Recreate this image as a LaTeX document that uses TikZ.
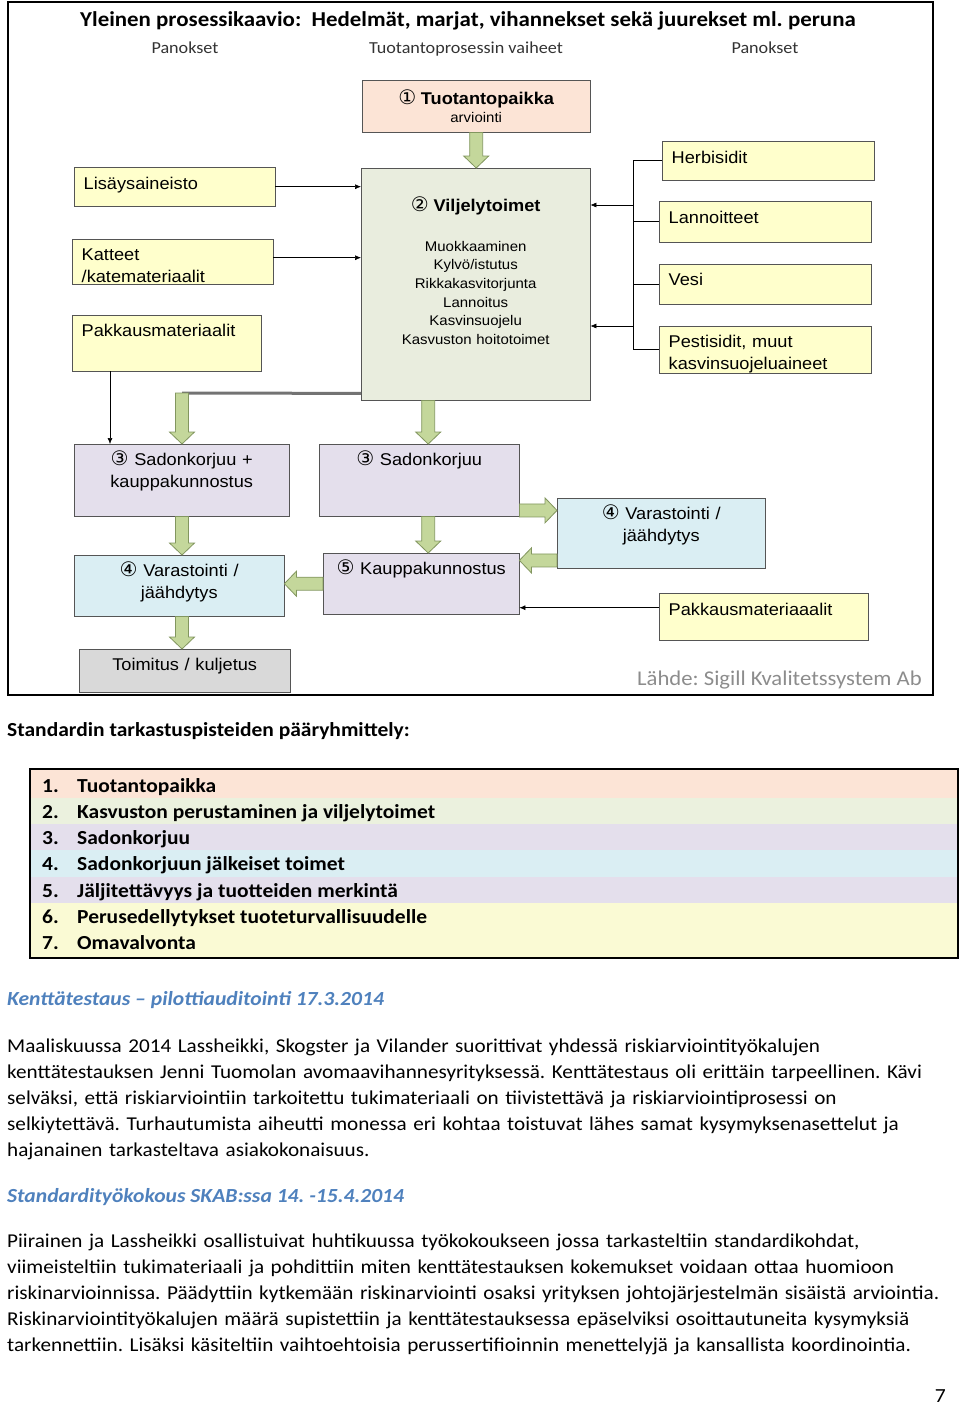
\documentclass[tikz,border=0pt]{standalone}
\usepackage{fontspec}
\setmainfont{Carlito}[FakeStretch=1.08]
\newfontfamily\arial{Liberation Sans}[FakeStretch=1.07]
\newfontfamily\dejavu{DejaVu Sans}
\usetikzlibrary{arrows.meta, calc, positioning}
\frenchspacing

\definecolor{panosfill}{RGB}{255,255,204}
\definecolor{paikkafill}{RGB}{252,228,214}
\definecolor{viljelyfill}{RGB}{233,237,222}
\definecolor{korjuufill}{RGB}{228,223,236}
\definecolor{varastofill}{RGB}{218,238,243}
\definecolor{toimitusfill}{RGB}{217,217,217}
\definecolor{reuna}{RGB}{85,85,85}
\definecolor{nuolifill}{RGB}{196,215,155}
\definecolor{nuolireuna}{RGB}{130,150,95}
\definecolor{otsikkosin}{RGB}{79,129,189}
\definecolor{rivivihr}{RGB}{235,241,222}
\definecolor{rivikelt}{RGB}{250,250,212}
\definecolor{lahdeharmaa}{RGB}{140,140,140}

% ympyröity numero
\newcommand{\ympyra}[1]{{\dejavu\fontsize{20}{20}\selectfont #1}}

\tikzstyle{panos} = [rectangle, draw=reuna, fill=panosfill,
anchor=north west,
align=left,
inner xsep=9.5pt, inner ysep=0pt,
text height=22pt,
font=\arial\fontsize{17}{22}\selectfont]
\tikzstyle{vaihe} = [rectangle, draw=reuna,
anchor=north west,
align=center,
inner sep=0pt,
text height=21.5pt,
font=\arial\fontsize{17}{22}\selectfont]
\tikzstyle{arrow} = [line width=0.6pt, -{Latex[length=6pt,width=5pt]}]
\tikzstyle{viiva} = [line width=0.6pt]
\tikzstyle{isonuoli} = [fill=nuolifill, draw=nuolireuna, line width=0.8pt,
to path={let \p1=($(\tikztotarget)!12pt!(\tikztostart)$) in
($(\tikztostart)!6.5pt!90:(\tikztotarget)$) -- ($(\p1)!6.5pt!90:(\tikztotarget)$)
-- ($(\p1)!12.5pt!90:(\tikztotarget)$) -- (\tikztotarget)
-- ($(\p1)!12.5pt!-90:(\tikztotarget)$) -- ($(\p1)!6.5pt!-90:(\tikztotarget)$)
-- ($(\tikztostart)!6.5pt!-90:(\tikztotarget)$) -- cycle}]
\tikzstyle{teksti} = [anchor=base west, align=left, inner sep=0pt, text width=960pt,
font=\fontsize{19.6}{26}\selectfont]
\tikzstyle{valiotsikko} = [anchor=base west, inner sep=0pt, text=otsikkosin,
font=\bfseries\itshape\fontsize{20}{24}\selectfont]

\begin{document}
\begin{tikzpicture}[x=1pt, y=-1pt]
        \useasboundingbox (0,0) rectangle (960,1405);

        % Kaavion kehys ja otsikot
        \draw [line width=2pt] (8,2) rectangle (933,695);
        \node (otsikko) [anchor=base, inner sep=0pt, font=\bfseries\fontsize{21.2}{26}\selectfont] at (468,27)
            {Yleinen prosessikaavio:~ Hedelmät, marjat, vihannekset sekä juurekset ml. peruna};
        \node (panokset1) [anchor=base, inner sep=0pt, text=black!80, font=\fontsize{16.8}{20}\selectfont] at (185,53) {Panokset};
        \node (vaiheet) [anchor=base, inner sep=0pt, text=black!80, font=\fontsize{16.8}{20}\selectfont] at (466,53) {Tuotantoprosessin vaiheet};
        \node (panokset2) [anchor=base, inner sep=0pt, text=black!80, font=\fontsize{16.8}{20}\selectfont] at (765,53) {Panokset};

        % Tuotantoprosessin vaiheet
        \node (tuot) [vaihe, fill=paikkafill, text width=228pt, text height=24pt, text depth=28pt,
            font=\arial\fontsize{14}{18}\selectfont] at (362,80)
            {{\fontsize{17}{18}\selectfont\ympyra{①} \textbf{Tuotantopaikka}}\\arviointi};
        \node (viljely) [vaihe, fill=viljelyfill, text width=229pt, text height=43pt, text depth=189pt,
            font=\arial\fontsize{14}{18.6}\selectfont] at (361,168)
            {{\fontsize{17}{18}\selectfont\ympyra{②} \textbf{Viljelytoimet}}\\[21.4pt]
             Muokkaaminen\\Kylvö/istutus\\Rikkakasvitorjunta\\Lannoitus\\Kasvinsuojelu\\Kasvuston hoitotoimet};
        \node (sadplus) [vaihe, fill=korjuufill, text width=215pt, text depth=50.5pt] at (74,444)
            {\ympyra{③} Sadonkorjuu +\\kauppakunnostus};
        \node (sad) [vaihe, fill=korjuufill, text width=200pt, text depth=50.5pt] at (319,444)
            {\ympyra{③} Sadonkorjuu};
        \node (varL) [vaihe, fill=varastofill, text width=210pt, text depth=39.5pt] at (74,555)
            {\ympyra{④} Varastointi /\\jäähdytys};
        \node (toim) [vaihe, fill=toimitusfill, text width=211pt, text depth=21.5pt] at (79,649)
            {Toimitus / kuljetus};
        \node (kauppa) [vaihe, fill=korjuufill, text width=196pt, text height=21pt, text depth=40pt] at (323,553)
            {\ympyra{⑤} Kauppakunnostus};
        \node (varR) [vaihe, fill=varastofill, text width=208pt, text height=21pt, text depth=49pt] at (557,498)
            {\ympyra{④} Varastointi /\\jäähdytys};

        % Panokset vasemmalla
        \node (lisays) [panos, text width=182pt, text depth=17pt] at (74,167) {Lisäysaineisto};
        \node (katteet) [panos, text width=182pt, text height=21pt, text depth=24pt] at (72,239) {Katteet\\/katemateriaalit};
        \node (pakkaus) [panos, text width=170pt, text height=21pt, text depth=35pt] at (72,315) {Pakkausmateriaalit};

        % Panokset oikealla
        \node (herb) [panos, text width=193pt, text depth=17pt] at (662,141) {Herbisidit};
        \node (lann) [panos, text width=193pt, text depth=19pt] at (659,201) {Lannoitteet};
        \node (vesi) [panos, text width=193pt, text height=21pt, text depth=19pt] at (659,264) {Vesi};
        \node (pest) [panos, text width=193pt, text height=21pt, text depth=26pt] at (659,326) {Pestisidit, muut\\kasvinsuojeluaineet};
        \node (pakkR) [panos, text width=190pt, text depth=25pt] at (659,593) {Pakkausmateriaaalit};

        \node (lahde) [anchor=base east, inner sep=0pt, text=lahdeharmaa, font=\fontsize{21}{24}\selectfont] at (922,685)
            {Lähde: Sigill Kvalitetssystem Ab};

        % --- Ohuet nuolet ---
        \draw [arrow] (lisays.east) -- (lisays.east -| viljely.west);
        \coordinate (kt) at ([yshift=4pt]katteet.east);
        \draw [arrow] (kt) -- (kt -| viljely.west);
        \coordinate (pk) at ([xshift=38pt]pakkaus.south west);
        \draw [arrow] (pk) -- (pk |- sadplus.north);

        \coordinate (haara1) at (633,205);
        \coordinate (haara2) at (633,326);
        \draw [viiva] (herb.west) -- (herb.west -| haara1) -- (pest.west -| haara1) -- (pest.west);
        \draw [viiva] (lann.west) -- (lann.west -| haara1);
        \draw [viiva] (vesi.west) -- (vesi.west -| haara1);
        \draw [arrow] (haara1) -- (haara1 -| viljely.east);
        \draw [arrow] (haara2) -- (haara2 -| viljely.east);

        \coordinate (pr) at ([yshift=9pt]pakkR.west);
        \draw [arrow] (pr) -- (pr -| kauppa.east);

        % --- Vihreät nuolet ---
        \draw [isonuoli] (tuot.south) to (tuot.south |- viljely.north);
        \coordinate (kulma) at (182,393);
        \draw [line width=3pt, black!55] ([yshift=7pt]viljely.south west) -- (kulma);
        \draw [isonuoli] (kulma) to (kulma |- sadplus.north);
        \coordinate (v2) at ([xshift=9pt]sad.north);
        \draw [isonuoli] (v2 |- viljely.south) to (v2);
        \coordinate (s2) at ([xshift=9pt]sad.south);
        \draw [isonuoli] (s2) to (s2 |- kauppa.north);
        \draw [isonuoli] (kulma |- sadplus.south) to (kulma |- varL.north);
        \draw [isonuoli] (kulma |- varL.south) to (kulma |- toim.north);
        \coordinate (s3) at ([yshift=6pt]sad.south east);
        \draw [isonuoli] (s3) to (s3 -| varR.west);
        \coordinate (v3) at ([yshift=8pt]varR.south west);
        \draw [isonuoli] (v3) to (v3 -| kauppa.east);
        \draw [isonuoli] (kauppa.west) to (kauppa.west -| varL.east);

        % Tarkastuspisteet
        \node (ryhmat) [anchor=base west, inner sep=0pt, font=\bfseries\fontsize{19.9}{24}\selectfont] at (7,736)
            {Standardin tarkastuspisteiden pääryhmittely:};
        \fill [paikkafill] (31,770) rectangle (957,798);
        \fill [rivivihr] (31,798) rectangle (957,824);
        \fill [korjuufill] (31,824) rectangle (957,850);
        \fill [varastofill] (31,850) rectangle (957,877);
        \fill [korjuufill] (31,877) rectangle (957,903);
        \fill [rivikelt] (31,903) rectangle (957,957);
        \draw [line width=2pt] (30,769) rectangle (958,958);
        \foreach \n/\kohta in {1/Tuotantopaikka, 2/Kasvuston perustaminen ja viljelytoimet, 3/Sadonkorjuu,
            4/Sadonkorjuun jälkeiset toimet, 5/Jäljitettävyys ja tuotteiden merkintä,
            6/Perusedellytykset tuoteturvallisuudelle, 7/Omavalvonta}
            \node (kohta\n) [anchor=base west, inner sep=0pt, font=\bfseries\fontsize{19.9}{24}\selectfont]
                at (42,{792+26.3*(\n-1)}) {\makebox[35pt][l]{\n.}\kohta};

        % Tekstikappaleet
        \node (otsikko1) [valiotsikko] at (7,1005) {Kenttätestaus – pilottiauditointi 17.3.2014};
        \node (kappale1) [teksti] at (7,1052)
            {Maaliskuussa 2014 Lassheikki, Skogster ja Vilander suorittivat yhdessä riskiarviointityökalujen\\
             kenttätestauksen Jenni Tuomolan avomaavihannesyrityksessä. Kenttätestaus oli erittäin tarpeellinen. Kävi\\
             selväksi, että riskiarviointiin tarkoitettu tukimateriaali on tiivistettävä ja riskiarviointiprosessi on\\
             selkiytettävä. Turhautumista aiheutti monessa eri kohtaa toistuvat lähes samat kysymyksenasettelut ja\\
             hajanainen tarkasteltava asiakokonaisuus.};
        \node (otsikko2) [valiotsikko] at (7,1202) {Standardityökokous SKAB:ssa 14. -15.4.2014};
        \node (kappale2) [teksti] at (7,1247)
            {Piirainen ja Lassheikki osallistuivat huhtikuussa työkokoukseen jossa tarkasteltiin standardikohdat,\\
             viimeisteltiin tukimateriaali ja pohdittiin miten kenttätestauksen kokemukset voidaan ottaa huomioon\\
             riskinarvioinnissa. Päädyttiin kytkemään riskinarviointi osaksi yrityksen johtojärjestelmän sisäistä arviointia.\\
             Riskinarviointityökalujen määrä supistettiin ja kenttätestauksessa epäselviksi osoittautuneita kysymyksiä\\
             tarkennettiin. Lisäksi käsiteltiin vaihtoehtoisia perussertifioinnin menettelyjä ja kansallista koordinointia.};
        \node (sivu) [anchor=base east, inner sep=0pt, font=\fontsize{20}{24}\selectfont] at (946,1402) {7};

\end{tikzpicture}
\end{document}
